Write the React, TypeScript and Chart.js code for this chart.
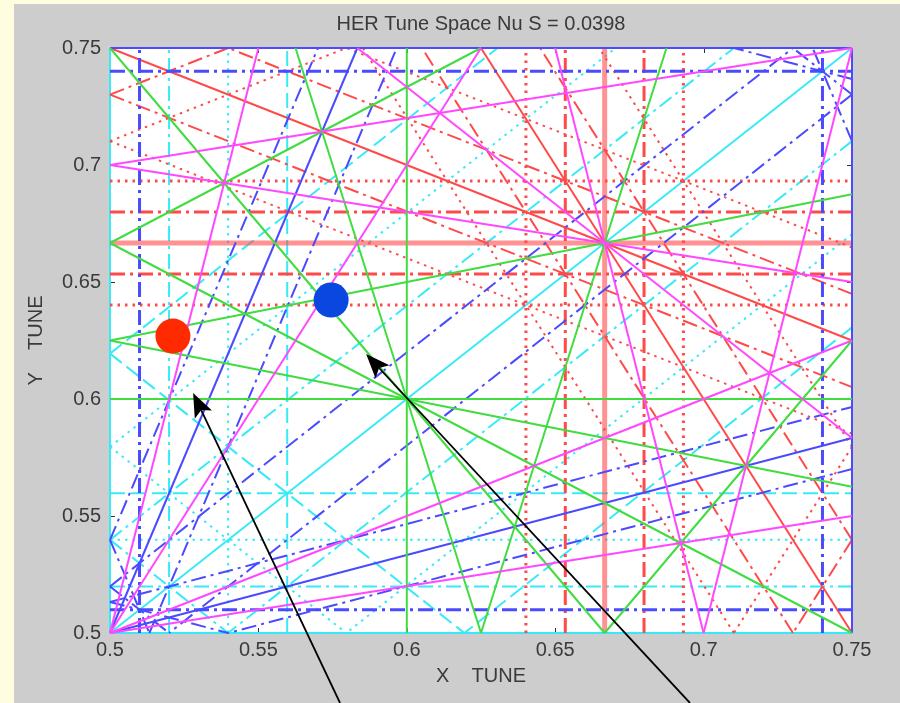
import { useEffect, useRef } from 'react';
import { Chart, registerables } from 'chart.js';

Chart.register(...registerables);

// Synchrotron tune and plotted tune window
const NU_S = 0.0398;
const TUNE_MIN = 0.5;
const TUNE_MAX = 0.75;
const TICK_VALUES = [0.5, 0.55, 0.6, 0.65, 0.7, 0.75];
const TICK_LABELS = ['0.5', '0.55', '0.6', '0.65', '0.7', '0.75'];

// Betatron resonance orders |m|+|n| shown, and the highest |m|+|n|+|k| kept for sidebands
const RESONANCE_ORDERS = [2, 3, 4, 5, 6];
const SIDEBAND_LIMIT = 5;

// Working points (x tune, y tune)
const WORKING_X = [0.5212, 0.5745];
const WORKING_Y = [0.6269, 0.6423];

// Arrows pointing at the working points: tip and tail in tune units
const ARROW_TIP_X = [0.528, 0.5863];
const ARROW_TIP_Y = [0.6026, 0.6192];
const ARROW_TAIL_X = [0.5775, 0.6954];
const ARROW_TAIL_Y = [0.4701, 0.4701];

// Styling
const ORDER_COLORS: Record<number, string> = {
  2: '#38eaf8',
  3: '#ff4a4a',
  4: '#4a4aff',
  5: '#40dc40',
  6: '#ff48ff',
};
const SIDEBAND_DASH: number[][] = [[], [15, 5, 3, 5], [2.5, 5], [15, 6]];
const POINT_COLORS = ['#ff2a00', '#0a46e0'];
const FONT = "'Liberation Sans', Arial, Helvetica, sans-serif";
const TEXT_COLOR = '#3a3a3a';

function gcd(a: number, b: number): number {
  a = Math.abs(a);
  b = Math.abs(b);
  while (b) {
    const t = b;
    b = a % b;
    a = t;
  }
  return a;
}

type Pt = { x: number; y: number };

// Segment of the line a*x + b*y = c inside the tune window
function clipLine(a: number, b: number, c: number): Pt[] | null {
  const eps = 1e-9;
  const pts: Pt[] = [];
  if (b !== 0) {
    for (const x of [TUNE_MIN, TUNE_MAX]) {
      const y = (c - a * x) / b;
      if (y >= TUNE_MIN - eps && y <= TUNE_MAX + eps) pts.push({ x, y });
    }
  }
  if (a !== 0) {
    for (const y of [TUNE_MIN, TUNE_MAX]) {
      const x = (c - b * y) / a;
      if (x >= TUNE_MIN - eps && x <= TUNE_MAX + eps) pts.push({ x, y });
    }
  }
  let best: Pt[] | null = null;
  let bestD = 1e-7;
  for (let i = 0; i < pts.length; i++) {
    for (let j = i + 1; j < pts.length; j++) {
      const d = Math.hypot(pts[i].x - pts[j].x, pts[i].y - pts[j].y);
      if (d > bestD) {
        bestD = d;
        best = [pts[i], pts[j]];
      }
    }
  }
  return best;
}

type Resonance = { order: number; k: number; seg: Pt[]; axisParallel: boolean };

// m*nux + n*nuy + k*nus = p
function buildResonances(): Resonance[] {
  const out: Resonance[] = [];
  const corners = [
    [TUNE_MIN, TUNE_MIN],
    [TUNE_MIN, TUNE_MAX],
    [TUNE_MAX, TUNE_MIN],
    [TUNE_MAX, TUNE_MAX],
  ];
  for (const order of RESONANCE_ORDERS) {
    const kMax = Math.max(0, SIDEBAND_LIMIT - order);
    for (let m = 0; m <= order; m++) {
      const rest = order - m;
      const nList = m === 0 || rest === 0 ? [rest] : [rest, -rest];
      for (const n of nList) {
        for (let k = -kMax; k <= kMax; k++) {
          const vals = corners.map(([x, y]) => m * x + n * y + k * NU_S);
          const lo = Math.ceil(Math.min(...vals) - 1e-9);
          const hi = Math.floor(Math.max(...vals) + 1e-9);
          for (let p = lo; p <= hi; p++) {
            if (gcd(gcd(gcd(m, n), p), k) !== 1) continue;
            const seg = clipLine(m, n, p - k * NU_S);
            if (!seg) continue;
            out.push({ order, k: Math.abs(k), seg, axisParallel: m === 0 || n === 0 });
          }
        }
      }
    }
  }
  return out;
}

const backgroundPlugin = {
  id: 'panelBackground',
  beforeDraw(chart: any) {
    const { ctx, width, height, chartArea } = chart;
    ctx.save();
    ctx.fillStyle = '#fffde0';
    ctx.fillRect(0, 0, width, height);
    ctx.fillStyle = '#cdcdcd';
    ctx.fillRect(14, 4, width - 14, height - 4);
    ctx.fillStyle = '#ffffff';
    ctx.fillRect(chartArea.left, chartArea.top, chartArea.right - chartArea.left, chartArea.bottom - chartArea.top);
    ctx.restore();
  },
};

const innerTicksPlugin = {
  id: 'innerTicks',
  beforeDatasetsDraw(chart: any) {
    const { ctx, chartArea, scales } = chart;
    const len = 5;
    ctx.save();
    ctx.strokeStyle = '#333';
    ctx.lineWidth = 1;
    ctx.beginPath();
    for (const v of TICK_VALUES) {
      const px = Math.round(scales.x.getPixelForValue(v)) + 0.5;
      ctx.moveTo(px, chartArea.bottom);
      ctx.lineTo(px, chartArea.bottom - len);
      ctx.moveTo(px, chartArea.top);
      ctx.lineTo(px, chartArea.top + len);
      const py = Math.round(scales.y.getPixelForValue(v)) + 0.5;
      ctx.moveTo(chartArea.left, py);
      ctx.lineTo(chartArea.left + len, py);
      ctx.moveTo(chartArea.right, py);
      ctx.lineTo(chartArea.right - len, py);
    }
    ctx.stroke();
    ctx.restore();
  },
};

const arrowPlugin = {
  id: 'arrows',
  afterDatasetsDraw(chart: any) {
    const { ctx, scales } = chart;
    ctx.save();
    ctx.strokeStyle = '#000';
    ctx.fillStyle = '#000';
    ctx.lineWidth = 1.8;
    for (let i = 0; i < ARROW_TIP_X.length; i++) {
      const tx = scales.x.getPixelForValue(ARROW_TIP_X[i]);
      const ty = scales.y.getPixelForValue(ARROW_TIP_Y[i]);
      const sx = scales.x.getPixelForValue(ARROW_TAIL_X[i]);
      const sy = scales.y.getPixelForValue(ARROW_TAIL_Y[i]);
      const ang = Math.atan2(ty - sy, tx - sx);
      const headLen = 24;
      const halfW = 9.5;
      const notch = 5;
      const ux = Math.cos(ang);
      const uy = Math.sin(ang);
      const bx = tx - ux * headLen;
      const by = ty - uy * headLen;
      ctx.beginPath();
      ctx.moveTo(sx, sy);
      ctx.lineTo(bx + ux * notch, by + uy * notch);
      ctx.stroke();
      ctx.beginPath();
      ctx.moveTo(tx, ty);
      ctx.lineTo(bx - uy * halfW, by + ux * halfW);
      ctx.lineTo(bx + ux * notch, by + uy * notch);
      ctx.lineTo(bx + uy * halfW, by - ux * halfW);
      ctx.closePath();
      ctx.fill();
    }
    ctx.restore();
  },
};

export default function App() {
  const canvasRef = useRef<HTMLCanvasElement | null>(null);

  useEffect(() => {
    const canvas = canvasRef.current;
    if (!canvas) return;

    const resonances = buildResonances();
    const lineSets: any[] = resonances.map((r) => {
      const thick = r.order === 3 && r.k === 0 && r.axisParallel;
      let width = 2;
      if (thick) width = 5;
      else if (r.axisParallel && r.k > 0 && (r.order === 3 || r.order === 4)) width = 3;
      return {
        type: 'line',
        data: r.seg,
        borderColor: thick ? 'rgba(255,74,74,0.6)' : ORDER_COLORS[r.order],
        borderWidth: width,
        borderDash: SIDEBAND_DASH[r.k],
        pointRadius: 0,
        fill: false,
        tension: 0,
        clip: false,
      };
    });
    const pointSet = {
      type: 'scatter',
      data: WORKING_X.map((x, i) => ({ x, y: WORKING_Y[i] })),
      backgroundColor: POINT_COLORS,
      borderWidth: 0,
      pointRadius: 17.5,
      showLine: false,
      clip: false,
    };
    const datasets = [...lineSets, pointSet].map((d, i, arr) => ({ ...d, order: arr.length - i }));

    const chart = new Chart(canvas, {
      type: 'scatter',
      data: { datasets },
      options: {
        animation: false,
        responsive: false,
        devicePixelRatio: 1,
        events: [],
        layout: { padding: { left: 0, right: 48, top: 0, bottom: 0 } },
        plugins: {
          legend: { display: false },
          tooltip: { enabled: false },
          title: {
            display: true,
            text: 'HER Tune Space Nu S = 0.0398',
            fullSize: false,
            color: TEXT_COLOR,
            font: { family: FONT, size: 20, weight: 'normal' },
            padding: { top: 12, bottom: 12 },
          },
        },
        scales: {
          x: {
            type: 'linear',
            min: TUNE_MIN,
            max: TUNE_MAX,
            grid: { display: false, drawTicks: false },
            border: { display: false },
            afterBuildTicks: (s: any) => {
              s.ticks = TICK_VALUES.map((v) => ({ value: v }));
            },
            afterFit: (s: any) => {
              s.height = 70;
            },
            ticks: {
              padding: 5,
              color: TEXT_COLOR,
              font: { family: FONT, size: 20 },
              maxRotation: 0,
              autoSkip: false,
              callback: (v: any) => TICK_LABELS[TICK_VALUES.findIndex((t) => Math.abs(t - v) < 1e-9)] ?? '',
            },
            title: {
              display: true,
              text: 'X    TUNE',
              color: TEXT_COLOR,
              font: { family: FONT, size: 20 },
              padding: { top: 0, bottom: 15 },
            },
          },
          y: {
            type: 'linear',
            min: TUNE_MIN,
            max: TUNE_MAX,
            grid: { display: false, drawTicks: false },
            border: { display: false },
            afterBuildTicks: (s: any) => {
              s.ticks = TICK_VALUES.map((v) => ({ value: v }));
            },
            afterFit: (s: any) => {
              s.width = 110;
            },
            ticks: {
              padding: 9,
              color: TEXT_COLOR,
              font: { family: FONT, size: 20 },
              autoSkip: false,
              callback: (v: any) => TICK_LABELS[TICK_VALUES.findIndex((t) => Math.abs(t - v) < 1e-9)] ?? '',
            },
            title: {
              display: true,
              text: 'Y    TUNE',
              color: TEXT_COLOR,
              font: { family: FONT, size: 20 },
              padding: { top: 24, bottom: 0 },
            },
          },
        },
      },
      plugins: [backgroundPlugin, innerTicksPlugin, arrowPlugin],
    } as any);

    return () => chart.destroy();
  }, []);

  return (
    <div style={{ position: 'fixed', left: 0, top: 0, width: 900, height: 703 }}>
      <canvas ref={canvasRef} width={900} height={703} />
    </div>
  );
}
